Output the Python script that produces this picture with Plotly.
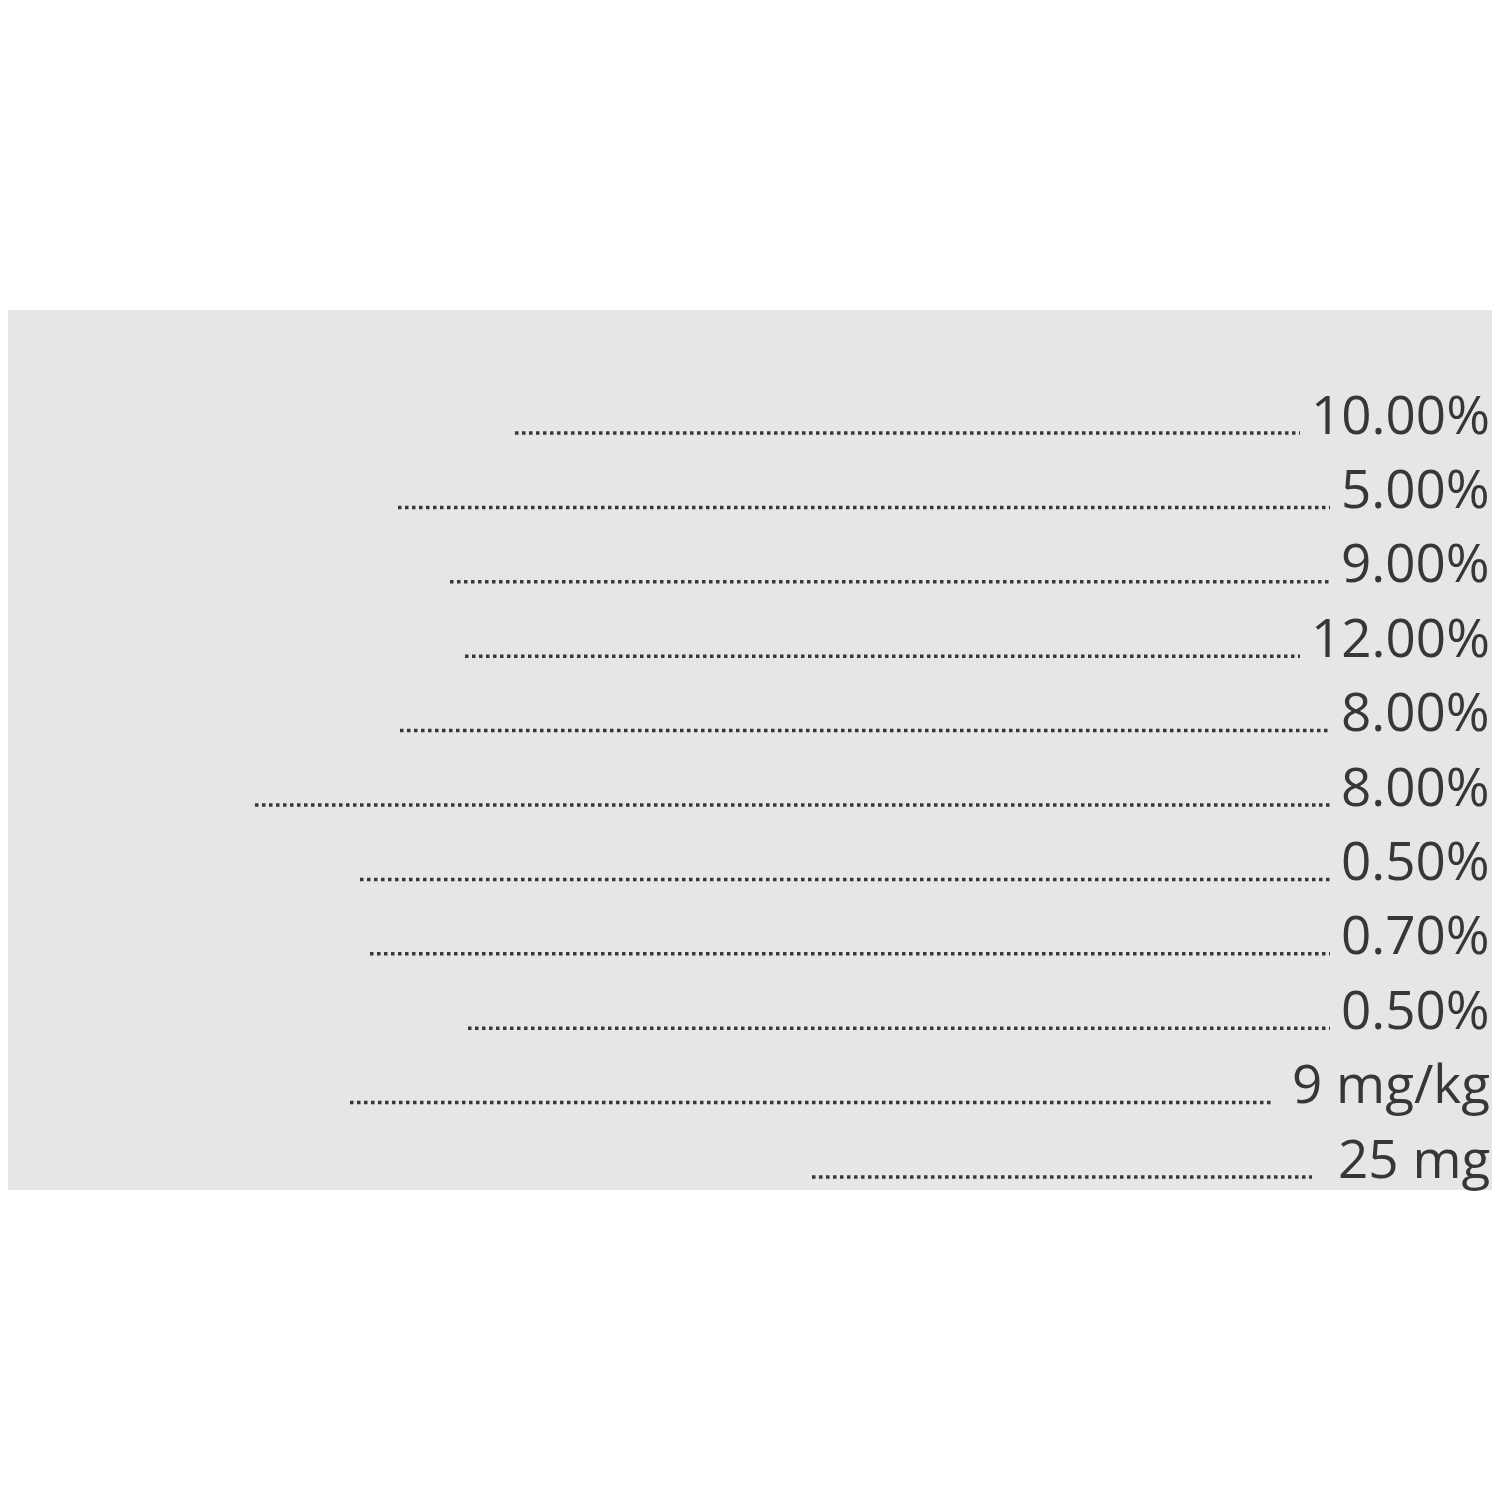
import plotly.graph_objects as go

title = "Guaranteed Analysis"
labels = ["Crude Protein (min)", "Crude Fat (min)", "Crude Fiber (min)", "Crude Fiber (max)",
          "Moisture (max)", "Ash (max)", "Calcium (min)", "Calcium (max)",
          "Phosphorus (min)", "Copper (min)", "Ascorbic Acid (Vitamin C) (min)"]
values = ["10.00%", "5.00%", "9.00%", "12.00%", "8.00%", "8.00%", "0.50%", "0.70%",
          "0.50%", "9 mg/kg", "25 mg"]

# layout helpers (pixel coords)
row_y = [413 + i * 74.4 for i in range(len(labels))]
leader_start = [515, 398, 450, 465, 400, 255, 360, 370, 468, 350, 812]
leader_end = [1300, 1330, 1330, 1300, 1330, 1330, 1330, 1330, 1330, 1272, 1312]

ink = "#3b3636"
fig = go.Figure()

for y, x0, x1 in zip(row_y, leader_start, leader_end):
    fig.add_trace(go.Scatter(x=[x0, x1], y=[y + 20, y + 20], mode="lines",
                             line=dict(color=ink, width=3.5, dash="dot"),
                             hoverinfo="skip", showlegend=False))

fig.add_annotation(x=3, y=340, text="<b>" + title + "</b>", showarrow=False,
                   xanchor="left", yanchor="middle",
                   font=dict(family="Open Sans", size=50, color=ink))
for y, lab, val in zip(row_y, labels, values):
    fig.add_annotation(x=2, y=y, text=lab, showarrow=False, xanchor="left", yanchor="middle",
                       font=dict(family="Open Sans", size=53, color=ink))
    fig.add_annotation(x=1492, y=y, text=val, showarrow=False, xanchor="right", yanchor="middle",
                       font=dict(family="Open Sans", size=53, color=ink))

fig.add_shape(type="rect", x0=8, x1=1508, y0=310, y1=1190, fillcolor="#e6e6e6",
              line_width=0, layer="below")

fig.update_layout(width=1500, height=1500, margin=dict(l=0, r=0, t=0, b=0),
                  paper_bgcolor="white", plot_bgcolor="white",
                  xaxis=dict(range=[8, 1508], visible=False),
                  yaxis=dict(range=[1508, 8], visible=False))
fig.write_html("out.html")
